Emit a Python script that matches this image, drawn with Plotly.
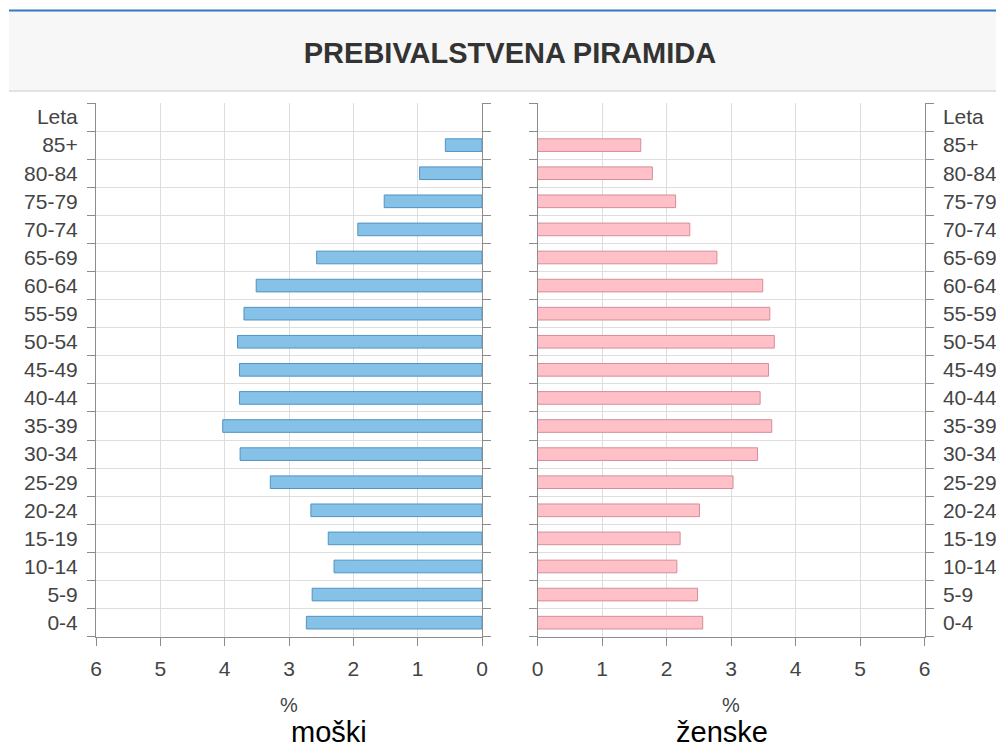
import plotly.graph_objects as go

# ---- data (percent of population) ----
age_groups = ['0-4', '5-9', '10-14', '15-19', '20-24', '25-29', '30-34', '35-39',
              '40-44', '45-49', '50-54', '55-59', '60-64', '65-69', '70-74',
              '75-79', '80-84', '85+']
header_label = 'Leta'
male = [2.73, 2.64, 2.30, 2.39, 2.66, 3.29, 3.76, 4.03, 3.77, 3.77,
        3.80, 3.70, 3.51, 2.57, 1.93, 1.52, 0.97, 0.57]
female = [2.56, 2.48, 2.16, 2.21, 2.51, 3.03, 3.41, 3.63, 3.45, 3.58,
          3.67, 3.60, 3.49, 2.78, 2.36, 2.14, 1.78, 1.60]
x_ticks = [0, 1, 2, 3, 4, 5, 6]
title_text = 'PREBIVALSTVENA PIRAMIDA'
unit_label = '%'
male_label = 'moški'
female_label = 'ženske'

categories = age_groups + [header_label]

W, H = 996, 749
def px(x):
    return x / W
def py(y):
    return 1 - y / H

FONT = 'Liberation Sans, Arial, sans-serif'
TICKFONT = dict(family=FONT, size=21, color='#444')
AXIS_COL = '#8c8c8c'
GRID_COL = '#dedede'

fig = go.Figure()
fig.add_trace(go.Bar(
    y=categories, x=male + [None], orientation='h', width=0.45,
    xaxis='x', yaxis='y',
    marker=dict(color='#86c1e8', line=dict(color='#5193c4', width=1)),
    hoverinfo='x+y'))
fig.add_trace(go.Bar(
    y=categories, x=female + [None], orientation='h', width=0.45,
    xaxis='x2', yaxis='y2',
    marker=dict(color='#ffc0c7', line=dict(color='#d68d98', width=1)),
    hoverinfo='x+y'))

ydom = [py(636.7), py(103)]
common_x = dict(tickvals=x_ticks, ticks='outside', ticklen=8, tickcolor=AXIS_COL,
                showline=True, linecolor=AXIS_COL, linewidth=1,
                showgrid=True, gridcolor=GRID_COL, zeroline=False,
                tickfont=TICKFONT, ticklabelstandoff=5, automargin=False)
common_y = dict(type='category', categoryorder='array', categoryarray=categories,
                range=[-0.5, len(categories) - 0.5], tickson='boundaries',
                ticks='outside', ticklen=8, tickcolor=AXIS_COL,
                showline=True, mirror='ticks', linecolor=AXIS_COL, linewidth=1,
                showgrid=True, gridcolor=GRID_COL, zeroline=False,
                tickfont=TICKFONT, ticklabelstandoff=13, automargin=False,
                domain=ydom)

fig.update_layout(
    width=W, height=H,
    margin=dict(l=0, r=0, t=0, b=0, autoexpand=False),
    paper_bgcolor='white', plot_bgcolor='white',
    showlegend=False,
    xaxis=dict(domain=[px(96), px(482)], range=[6, 0], anchor='y', **common_x),
    yaxis=dict(anchor='x', side='left', **common_y),
    xaxis2=dict(domain=[px(537.5), px(924.7)], range=[0, 6], anchor='y2', **common_x),
    yaxis2=dict(anchor='x2', side='right', **common_y),
    title=dict(text='<b>' + title_text + '</b>', x=px(510), xanchor='center',
               y=py(52.5), yanchor='middle', xref='paper', yref='paper',
               automargin=False,
               font=dict(family=FONT, size=29, color='#333')),
    shapes=[
        dict(type='rect', xref='paper', yref='paper', x0=px(9), x1=1,
             y0=py(91), y1=py(10), fillcolor='#f7f7f7', line=dict(width=0), layer='below'),
        dict(type='line', xref='paper', yref='paper', x0=px(9), x1=1,
             y0=py(10.5), y1=py(10.5), line=dict(color='#2f7ac0', width=2)),
        dict(type='line', xref='paper', yref='paper', x0=px(9), x1=1,
             y0=py(91), y1=py(91), line=dict(color='#e2e2e2', width=2)),
    ],
    annotations=[
        dict(text=unit_label, x=px(289), y=py(705), xref='paper', yref='paper',
             showarrow=False, xanchor='center', yanchor='middle',
             font=dict(family=FONT, size=20, color='#444')),
        dict(text=unit_label, x=px(731), y=py(705), xref='paper', yref='paper',
             showarrow=False, xanchor='center', yanchor='middle',
             font=dict(family=FONT, size=20, color='#444')),
        dict(text=male_label, x=px(329), y=py(732), xref='paper', yref='paper',
             showarrow=False, xanchor='center', yanchor='middle',
             font=dict(family=FONT, size=29, color='#000')),
        dict(text=female_label, x=px(722), y=py(732), xref='paper', yref='paper',
             showarrow=False, xanchor='center', yanchor='middle',
             font=dict(family=FONT, size=29, color='#000')),
    ],
)

fig.write_html(
    'out.html',
    config={'displayModeBar': False},
    post_script="document.body.style.margin='0';document.body.style.overflow='hidden';",
)
